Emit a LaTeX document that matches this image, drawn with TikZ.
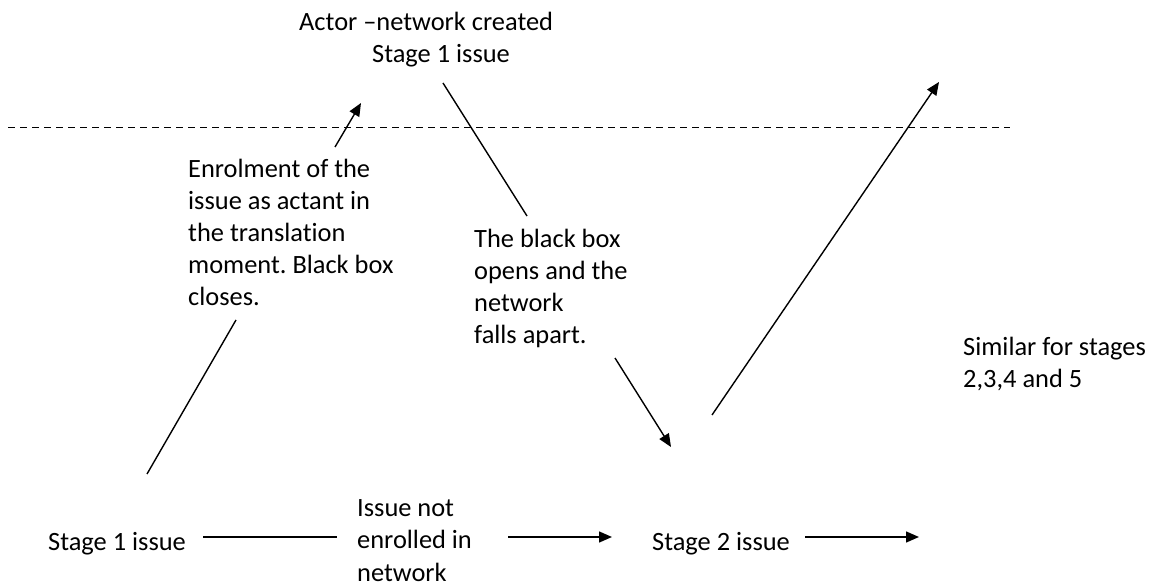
\documentclass[tikz,border=0pt]{standalone}
\usepackage{fontspec}
\setmainfont{Carlito}[Ligatures=NoCommon]
\usetikzlibrary{arrows.meta}
\frenchspacing

\begin{document}
\begin{tikzpicture}[x=1pt,y=-1pt,
    every node/.style={inner sep=0pt, anchor=base west, align=left,
      font=\fontsize{26.4}{32.2}\selectfont},
    link/.style={black, line width=1.4pt},
    tip/.style={link, -{Triangle[length=13pt,width=11pt]}}]
    \useasboundingbox (0,0) rectangle (1152,585);
    % labels (anchored at the baseline of their last line)
    \node (top) at (299,63) {Actor --network created\\\hspace*{73pt}Stage 1 issue};
    \node (enrol) at (188,306) {Enrolment of the\\issue as actant in\\the translation\\moment. Black box\\closes.};
    \node (bbox) at (474,344) {The black box\\opens and the\\network\\falls apart.};
    \node (similar) at (963,388) {Similar for stages\\2,3,4 and 5};
    \node (stageone) at (48,550) {Stage 1 issue};
    \node (notenrol) at (357,581) {Issue not\\enrolled in\\network};
    \node (stagetwo) at (652,550) {Stage 2 issue};
    % end points
    \coordinate (dl) at (8,128);
    \coordinate (dr) at (1010,128);
    \coordinate (a1) at (147,474);
    \coordinate (a2) at (236,320);
    \coordinate (b1) at (335,147);
    \coordinate (b2) at (361,103);
    \coordinate (c1) at (443,83);
    \coordinate (c2) at (527,216);
    \coordinate (d1) at (615,358);
    \coordinate (d2) at (671,447);
    \coordinate (e1) at (712,415);
    \coordinate (e2) at (939,82);
    \coordinate (f1) at (203,537);
    \coordinate (f2) at (337,537);
    \coordinate (g1) at (508,537);
    \coordinate (g2) at (612,537);
    \coordinate (h1) at (805,537);
    \coordinate (h2) at (919,537);
    % dashed boundary
    \draw [black, line width=1pt, dash pattern=on 7pt off 5pt] (dl) -- (dr);
    % connectors
    \draw [link] (a1) -- (a2);
    \draw [tip] (b1) -- (b2);
    \draw [link] (c1) -- (c2);
    \draw [tip] (d1) -- (d2);
    \draw [tip] (e1) -- (e2);
    \draw [link] (f1) -- (f2);
    \draw [tip] (g1) -- (g2);
    \draw [tip] (h1) -- (h2);
\end{tikzpicture}
\end{document}
